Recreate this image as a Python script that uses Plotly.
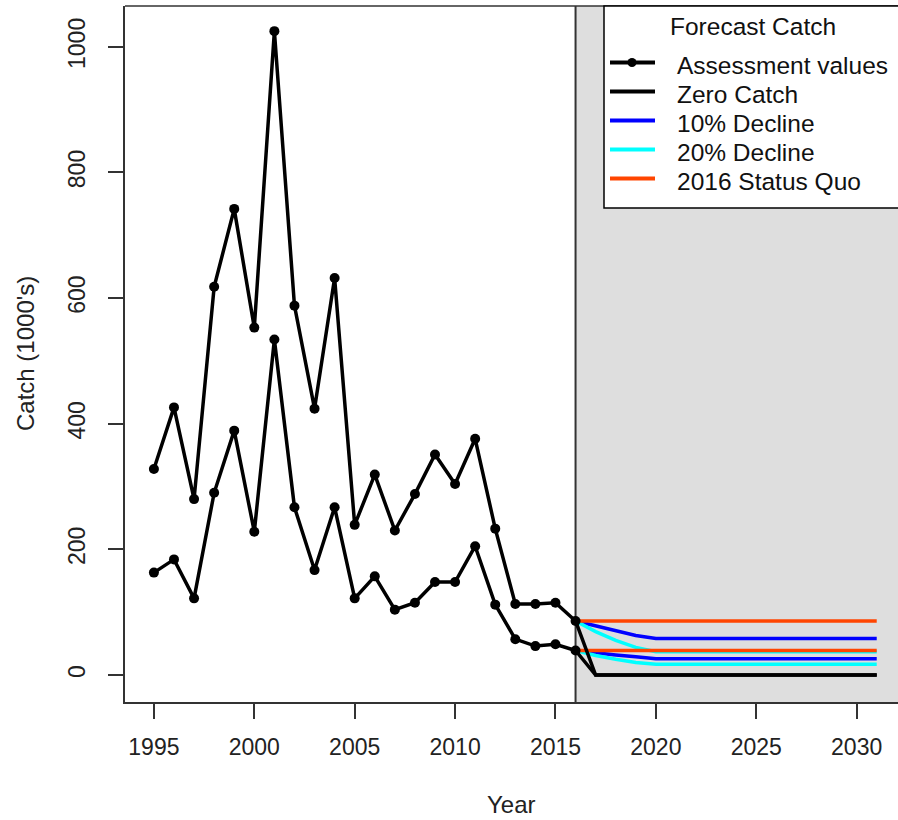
import plotly.graph_objects as go

# Historical assessment catches (1000's), two assessment runs
hist_years = list(range(1995, 2017))
assess_high = [328, 426, 280, 618, 742, 553, 1025, 588, 424, 632, 239,
               319, 230, 288, 351, 304, 376, 233, 113, 113, 115, 86]
assess_low = [163, 184, 122, 290, 389, 228, 534, 267, 167, 267, 122,
              157, 104, 115, 148, 148, 205, 112, 57, 46, 49, 39]

# Forecast scenarios 2016-2031
fc_years = list(range(2016, 2032))
zero_high = [86] + [0] * 15
zero_low = [39] + [0] * 15
decl10_high = [86, 78, 70, 63, 58] + [58] * 11
decl10_low = [39, 35, 32, 29, 26] + [26] * 11
decl20_high = [86, 69, 55, 44, 37] + [37] * 11
decl20_low = [39, 31, 25, 20, 17] + [17] * 11
status_high = [86] * 16
status_low = [39] * 16

x_ticks = [1995, 2000, 2005, 2010, 2015, 2020, 2025, 2030]
y_ticks = [0, 200, 400, 600, 800, 1000]

legend_title = "Forecast Catch"
legend_labels = ["Assessment values", "Zero Catch", "10% Decline",
                 "20% Decline", "2016 Status Quo"]

BLACK = "#000000"
BLUE = "#0000FF"
CYAN = "#00FFFF"
RED = "#FF4500"
legend_colors = [BLACK, BLACK, BLUE, CYAN, RED]

FONT = "Liberation Sans, Arial, sans-serif"
LW = 3.5

W, H = 898, 820
ML, MR, MT, MB = 125, 0, 6, 118
PW, PH = W - ML - MR, H - MT - MB


def px_x(p):
    return (p - ML) / PW


def px_y(p):
    return (H - MB - p) / PH


fig = go.Figure()


def line(x, y, color):
    fig.add_trace(go.Scatter(x=x, y=y, mode="lines", showlegend=False,
                             line=dict(color=color, width=LW),
                             hoverinfo="skip"))


# Forecast scenario lines
line(fc_years, decl10_high, BLUE)
line(fc_years, decl10_low, BLUE)
line(fc_years, decl20_high, CYAN)
line(fc_years, decl20_low, CYAN)
line(fc_years, status_high, RED)
line(fc_years, status_low, RED)
line(fc_years, zero_high, BLACK)
line(fc_years, zero_low, BLACK)

# Assessment series with points
for series in (assess_high, assess_low):
    fig.add_trace(go.Scatter(x=hist_years, y=series, mode="lines+markers",
                             showlegend=False,
                             line=dict(color=BLACK, width=LW),
                             marker=dict(color=BLACK, size=10)))

shapes = []
# Forecast period shading and divider
shapes.append(dict(type="rect", xref="x", yref="paper", x0=2016, x1=2040,
                   y0=0, y1=1, fillcolor="#DEDEDE", line=dict(width=0),
                   layer="below"))
shapes.append(dict(type="line", xref="x", yref="paper", x0=2016, x1=2016,
                   y0=0, y1=1, line=dict(color="#333333", width=2),
                   layer="below"))
# Top border of the plot box
shapes.append(dict(type="line", xref="paper", yref="paper", x0=0, x1=1.02,
                   y0=1, y1=1, line=dict(color="#333333", width=1.5)))

# Legend box
lg_left, lg_top, lg_bottom = 604, 6, 208
shapes.append(dict(type="rect", xref="paper", yref="paper",
                   x0=px_x(lg_left), x1=px_x(W + 20),
                   y0=px_y(lg_bottom), y1=px_y(lg_top),
                   fillcolor="white", line=dict(color=BLACK, width=1.5)))
row_y = [62.5, 91.5, 120.5, 149.5, 178.5]
annotations = []
for yy, lab, col in zip(row_y, legend_labels, legend_colors):
    shapes.append(dict(type="line", xref="paper", yref="paper",
                       x0=px_x(610), x1=px_x(655), y0=px_y(yy), y1=px_y(yy),
                       line=dict(color=col, width=4)))
    annotations.append(dict(text=lab, xref="paper", yref="paper",
                            x=px_x(675), y=px_y(yy + 3), xanchor="left",
                            yanchor="middle", showarrow=False,
                            font=dict(family=FONT, size=24.5, color="#111111")))
r = 4.5
shapes.append(dict(type="circle", xref="paper", yref="paper",
                   x0=px_x(632 - r), x1=px_x(632 + r),
                   y0=px_y(row_y[0] + r), y1=px_y(row_y[0] - r),
                   fillcolor=BLACK, line=dict(color=BLACK, width=0)))
annotations.append(dict(text=legend_title, xref="paper", yref="paper",
                        x=px_x(753), y=px_y(27), xanchor="center",
                        yanchor="middle", showarrow=False,
                        font=dict(family=FONT, size=24.5, color="#111111")))

# Axis titles
annotations.append(dict(text="Year", xref="paper", yref="paper", x=0.5,
                        y=0, yshift=-102, xanchor="center", yanchor="middle",
                        showarrow=False,
                        font=dict(family=FONT, size=24, color="#222222")))
annotations.append(dict(text="Catch (1000's)", xref="paper", yref="paper",
                        x=0, xshift=-100, y=0.5, xanchor="center",
                        yanchor="middle", textangle=-90, showarrow=False,
                        font=dict(family=FONT, size=24, color="#222222")))

fig.update_layout(
    width=W, height=H,
    margin=dict(l=ML, r=MR, t=MT, b=MB),
    paper_bgcolor="white", plot_bgcolor="white",
    shapes=shapes, annotations=annotations,
    showlegend=False,
    font=dict(family=FONT, color="#222222"),
    xaxis=dict(range=[1993.56, 2032.06], tickvals=x_ticks,
               ticks="outside", ticklen=15, tickwidth=1.5,
               tickcolor="#333333", showline=True, linecolor="#333333",
               linewidth=1.5, showgrid=False, zeroline=False,
               ticklabelstandoff=9,
               tickfont=dict(size=23, family=FONT, color="#222222")),
    yaxis=dict(range=[-43, 1065], tickvals=y_ticks, tickangle=-90,
               ticks="outside", ticklen=15, tickwidth=1.5,
               tickcolor="#333333", showline=True, linecolor="#333333",
               linewidth=1.5, showgrid=False, zeroline=False,
               ticklabelstandoff=14,
               tickfont=dict(size=23, family=FONT, color="#222222")),
)

fig.write_html("out.html")
